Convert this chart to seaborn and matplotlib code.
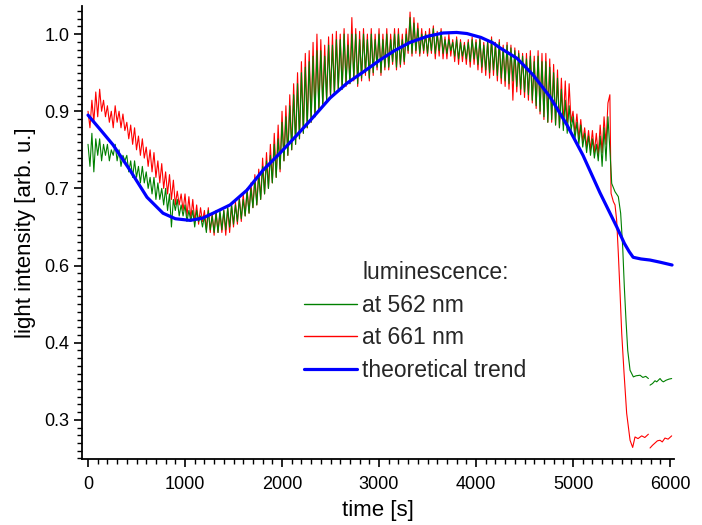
import numpy as np
import pandas as pd
import matplotlib
matplotlib.use("Agg")
import matplotlib.pyplot as plt
from matplotlib.lines import Line2D
from matplotlib.ticker import FixedLocator, FormatStrFormatter
import seaborn as sns

# ---------------- data ----------------
time_main = np.arange(0, 5400, 20)  # sampling grid, 20 s

green_main = [
    0.80, 0.76, 0.82, 0.75, 0.81,
    0.78, 0.81, 0.77, 0.80, 0.78,
    0.80, 0.77, 0.79, 0.78, 0.80,
    0.77, 0.79, 0.76, 0.78, 0.77,
    0.78, 0.75, 0.77, 0.74, 0.77,
    0.74, 0.76, 0.73, 0.76, 0.73,
    0.75, 0.72, 0.74, 0.71, 0.74,
    0.70, 0.73, 0.70, 0.72, 0.69,
    0.72, 0.68, 0.71, 0.65, 0.70,
    0.68, 0.70, 0.67, 0.69, 0.67,
    0.69, 0.66, 0.68, 0.66, 0.68,
    0.65, 0.68, 0.66, 0.67, 0.65,
    0.67, 0.64, 0.68, 0.645, 0.67,
    0.64, 0.675, 0.64, 0.68, 0.645,
    0.68, 0.645, 0.685, 0.65, 0.69,
    0.655, 0.69, 0.66, 0.70, 0.665,
    0.70, 0.67, 0.715, 0.675, 0.72,
    0.685, 0.735, 0.69, 0.745, 0.70,
    0.76, 0.71, 0.77, 0.72, 0.78,
    0.73, 0.80, 0.74, 0.81, 0.755,
    0.84, 0.77, 0.85, 0.78, 0.87,
    0.79, 0.89, 0.80, 0.91, 0.81,
    0.93, 0.82, 0.94, 0.83, 0.95,
    0.84, 0.96, 0.85, 0.97, 0.86,
    0.97, 0.87, 0.96, 0.88, 0.98,
    0.89, 0.98, 0.89, 0.99, 0.90,
    0.99, 0.90, 1.00, 0.91, 0.98,
    0.91, 1.00, 0.92, 1.00, 0.91,
    0.99, 0.92, 1.00, 0.93, 0.99,
    0.92, 1.00, 0.93, 0.99, 0.94,
    1.00, 0.93, 0.99, 0.94, 1.00,
    0.94, 0.99, 0.95, 1.00, 0.94,
    1.00, 0.945, 0.99, 0.95, 1.00,
    0.97, 1.03, 0.965, 1.02, 0.97,
    1.01, 0.965, 1.00, 0.97, 1.00,
    0.965, 1.00, 0.97, 1.01, 0.965,
    1.00, 0.97, 1.005, 0.965, 0.99,
    0.965, 0.99, 0.97, 0.985, 0.96,
    0.99, 0.955, 0.985, 0.96, 0.98,
    0.955, 0.985, 0.95, 0.99, 0.955,
    0.985, 0.945, 0.99, 0.94, 0.98,
    0.935, 0.985, 0.93, 0.99, 0.935,
    0.98, 0.925, 0.985, 0.92, 0.975,
    0.915, 0.98, 0.91, 0.975, 0.915,
    0.97, 0.905, 0.965, 0.90, 0.96,
    0.895, 0.955, 0.89, 0.96, 0.88,
    0.95, 0.87, 0.96, 0.86, 0.95,
    0.85, 0.95, 0.84, 0.94, 0.845,
    0.93, 0.835, 0.92, 0.83, 0.90,
    0.825, 0.88, 0.82, 0.87, 0.825,
    0.85, 0.81, 0.84, 0.80, 0.835,
    0.795, 0.82, 0.785, 0.815, 0.78,
    0.81, 0.775, 0.80, 0.77, 0.815,
    0.76, 0.83, 0.77, 0.85, 0.79,
]

red_main = [
    0.86, 0.83, 0.88, 0.84, 0.895,
    0.85, 0.90, 0.86, 0.88, 0.85,
    0.87, 0.84, 0.86, 0.83, 0.87,
    0.84, 0.86, 0.83, 0.855, 0.825,
    0.84, 0.81, 0.835, 0.80, 0.83,
    0.79, 0.815, 0.78, 0.81, 0.775,
    0.795, 0.76, 0.79, 0.75, 0.785,
    0.74, 0.77, 0.73, 0.765, 0.72,
    0.75, 0.71, 0.745, 0.70, 0.735,
    0.69, 0.715, 0.69, 0.71, 0.68,
    0.71, 0.67, 0.705, 0.665, 0.70,
    0.66, 0.69, 0.655, 0.685, 0.66,
    0.68, 0.645, 0.685, 0.64, 0.675,
    0.635, 0.68, 0.64, 0.675, 0.64,
    0.68, 0.635, 0.685, 0.64, 0.69,
    0.65, 0.695, 0.655, 0.705, 0.66,
    0.71, 0.67, 0.72, 0.675, 0.73,
    0.685, 0.745, 0.69, 0.755, 0.70,
    0.775, 0.71, 0.785, 0.72, 0.80,
    0.73, 0.82, 0.74, 0.835, 0.75,
    0.86, 0.77, 0.87, 0.78, 0.89,
    0.79, 0.91, 0.80, 0.93, 0.81,
    0.95, 0.82, 0.965, 0.83, 0.97,
    0.84, 0.985, 0.85, 1.00, 0.86,
    0.99, 0.87, 0.98, 0.88, 0.995,
    0.885, 1.00, 0.89, 1.005, 0.90,
    1.00, 0.90, 1.01, 0.905, 1.00,
    0.91, 1.03, 0.915, 1.01, 0.905,
    1.005, 0.915, 1.01, 0.925, 1.00,
    0.915, 1.01, 0.925, 1.00, 0.935,
    1.01, 0.925, 1.00, 0.935, 1.01,
    0.935, 1.00, 0.945, 1.01, 0.935,
    1.01, 0.94, 1.00, 0.945, 1.01,
    0.965, 1.04, 0.96, 1.03, 0.965,
    1.02, 0.96, 1.01, 0.965, 1.005,
    0.96, 1.01, 0.965, 1.015, 0.955,
    1.005, 0.96, 1.01, 0.955, 0.995,
    0.955, 1.00, 0.96, 0.99, 0.95,
    0.995, 0.945, 0.99, 0.95, 0.985,
    0.945, 0.99, 0.94, 0.995, 0.945,
    0.99, 0.935, 0.995, 0.93, 0.985,
    0.925, 0.99, 0.92, 0.995, 0.925,
    0.985, 0.915, 0.99, 0.91, 0.98,
    0.905, 0.985, 0.90, 0.98, 0.88,
    0.975, 0.895, 0.97, 0.89, 0.965,
    0.885, 0.965, 0.88, 0.97, 0.875,
    0.96, 0.865, 0.97, 0.855, 0.965,
    0.845, 0.965, 0.84, 0.955, 0.84,
    0.945, 0.835, 0.935, 0.83, 0.92,
    0.835, 0.915, 0.83, 0.91, 0.84,
    0.86, 0.82, 0.855, 0.81, 0.845,
    0.805, 0.83, 0.795, 0.825, 0.79,
    0.825, 0.785, 0.82, 0.78, 0.835,
    0.785, 0.85, 0.80, 0.875, 0.89,
]

green_tail_a_t = [5399, 5433, 5467, 5491, 5512, 5529, 5546, 5564, 5588, 5622,
                  5650, 5691, 5720, 5750, 5777]
green_tail_a = [0.729, 0.714, 0.705, 0.675, 0.614, 0.541, 0.481, 0.426, 0.390, 0.378,
                0.380, 0.381, 0.377, 0.379, 0.375]
green_tail_b_t = [5794, 5820, 5845, 5863, 5880, 5897, 5915, 5931, 5960, 5990, 6017]
green_tail_b = [0.363, 0.366, 0.371, 0.369, 0.372, 0.375, 0.371, 0.369, 0.372, 0.374, 0.375]

red_tail_a_t = [5392, 5416, 5433, 5450, 5467, 5485, 5502, 5526, 5553, 5588, 5615,
                5639, 5670, 5708, 5740, 5777]
red_tail_a = [0.711, 0.696, 0.690, 0.662, 0.602, 0.530, 0.457, 0.385, 0.312, 0.263, 0.250,
              0.269, 0.266, 0.271, 0.268, 0.274]
red_tail_b_t = [5794, 5820, 5845, 5870, 5897, 5920, 5948, 5980, 6017]
red_tail_b = [0.249, 0.254, 0.258, 0.262, 0.263, 0.260, 0.267, 0.265, 0.271]

trend_t = [0, 130, 258, 433, 608, 773, 900, 1052, 1180, 1289, 1464, 1639, 1804, 1979,
           2155, 2320, 2495, 2670, 2835, 3010, 3160, 3320, 3500, 3660, 3800, 3907, 4050,
           4175, 4247, 4423, 4588, 4763, 4938, 5103, 5278, 5454, 5530, 5580, 5620, 5700,
           5794, 5900, 6021]
trend_v = [0.853, 0.826, 0.799, 0.753, 0.704, 0.675, 0.665, 0.662, 0.666, 0.675, 0.690,
           0.717, 0.753, 0.784, 0.817, 0.849, 0.884, 0.911, 0.931, 0.953, 0.970, 0.985,
           0.996, 1.002, 1.003, 1.001, 0.994, 0.984, 0.975, 0.956, 0.926, 0.886, 0.835,
           0.780, 0.712, 0.649, 0.620, 0.605, 0.595, 0.592, 0.590, 0.586, 0.581]

y_major_ticks = [0.30, 0.44, 0.58, 0.72, 0.86, 1.00]
y_minor_step = 0.014
x_major_ticks = [0, 1000, 2000, 3000, 4000, 5000, 6000]

legend_labels = ["luminescence:", "at 562 nm", "at 661 nm", "theoretical trend"]

GREEN = "#008000"
RED = "#ff0000"
BLUE = "#0000ff"

# ---------------- plotting ----------------
sns.set_theme(style="white")
plt.rcParams["font.family"] = ["Liberation Sans", "DejaVu Sans"]

fig = plt.figure(figsize=(7.02, 5.25), dpi=100)
ax = fig.add_axes([82 / 702, 66 / 525, 592 / 702, 453 / 525])

green_t = list(time_main) + green_tail_a_t
green_v = green_main + green_tail_a
red_t = list(time_main) + red_tail_a_t
red_v = red_main + red_tail_a

kw = dict(ax=ax, estimator=None, sort=False, legend=False)
sns.lineplot(x=red_t, y=red_v, color=RED, linewidth=0.8, **kw)
sns.lineplot(x=red_tail_b_t, y=red_tail_b, color=RED, linewidth=0.8, **kw)
sns.lineplot(x=green_t, y=green_v, color=GREEN, linewidth=0.8, **kw)
sns.lineplot(x=green_tail_b_t, y=green_tail_b, color=GREEN, linewidth=0.8, **kw)
sns.lineplot(x=trend_t, y=trend_v, color=BLUE, linewidth=2.3, **kw)

ax.set_xlim(-62, 6041)
ax.set_ylim(0.229, 1.051)

ax.xaxis.set_major_locator(FixedLocator(x_major_ticks))
ax.xaxis.set_minor_locator(FixedLocator(list(range(0, 6001, 100))))
ax.yaxis.set_major_locator(FixedLocator(y_major_ticks))
ax.yaxis.set_minor_locator(FixedLocator(list(np.arange(0.23, 1.05, y_minor_step))))
ax.yaxis.set_major_formatter(FormatStrFormatter("%.1f"))

for side in ["top", "right"]:
    ax.spines[side].set_visible(False)
for side in ["left", "bottom"]:
    ax.spines[side].set_color("black")
    ax.spines[side].set_linewidth(1.3)

ax.tick_params(axis="both", which="major", direction="out", length=6, width=1.2,
               color="black", labelsize=13, labelcolor="black",
               left=True, bottom=True)
ax.tick_params(axis="x", which="major", pad=6)
ax.tick_params(axis="y", which="major", pad=3)
ax.tick_params(axis="both", which="minor", direction="out", length=3.5, width=1.0,
               color="black", left=True, bottom=True)

ax.set_xlabel("time [s]", fontsize=16, color="black", labelpad=5)
ax.set_ylabel("light intensity [arb. u.]", fontsize=16, color="black", labelpad=6)

handles = [Line2D([], [], color="none"),
           Line2D([], [], color=GREEN, linewidth=1.0),
           Line2D([], [], color=RED, linewidth=1.0),
           Line2D([], [], color=BLUE, linewidth=2.3)]
fig.legend(handles, legend_labels, loc="upper left",
           bbox_to_anchor=(304 / 702, 1 - 261 / 525), frameon=False,
           fontsize=16.5, handlelength=2.3, handletextpad=0.25,
           labelspacing=0.42, borderpad=0, borderaxespad=0)

fig.savefig("out.png", dpi=100)
